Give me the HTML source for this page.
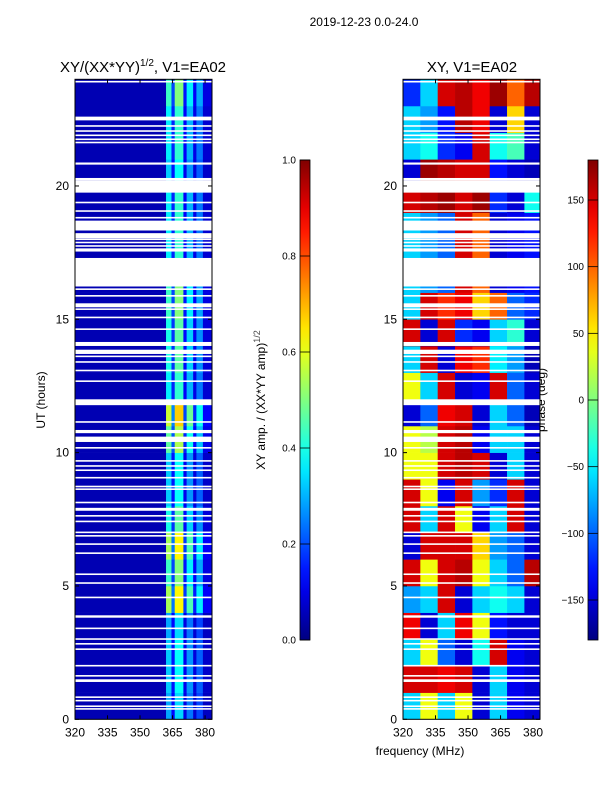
<!DOCTYPE html>
<html><head><meta charset="utf-8"><style>
body{margin:0;background:#fff;font-family:"Liberation Sans",sans-serif}
svg text{font-family:"Liberation Sans",sans-serif}
</style></head><body>
<svg id="fig" width="600" height="800" xmlns="http://www.w3.org/2000/svg">
<text x="364" y="26" font-size="12" text-anchor="middle">2019-12-23 0.0-24.0</text>
<text x="143" y="72" font-size="15" text-anchor="middle">XY/(XX*YY)<tspan font-size="10" dy="-6">1/2</tspan><tspan dy="6">, V1=EA02</tspan></text>
<text x="472" y="72" font-size="15" text-anchor="middle">XY, V1=EA02</text>
<text x="420" y="755" font-size="12" text-anchor="middle">frequency (MHz)</text>
<text transform="translate(45,400) rotate(-90)" font-size="12" text-anchor="middle">UT (hours)</text>
<text transform="translate(265,400) rotate(-90)" font-size="12" text-anchor="middle">XY amp. / (XX*YY amp)<tspan font-size="9" dy="-5" fill="#444">1/2</tspan></text>
<text transform="translate(545,400) rotate(-90)" font-size="12" text-anchor="middle">phase (deg)</text>
<g id="left"></g>
<g id="right"></g>
<g id="cbars"></g>
</svg>
<script>
// amplitude data
const ampFreqEdges = [320,362,364.5,366,370,371.5,374.5,376,379,383.2];
const ampColBase = [0.05,0.36,0.16,0.42,0.12,0.3,0.1,0.24,0.08];
const ampHourScale = [0.8,0.9,0.9,0.8,1.5,1.2,1.5,1.1,0.9,0.9,1.3,1.6,1.0,1.1,1.1,1.2,1.2,1.0,1.0,1.0,0.9,1.0,1.0,1.2];
// phase data (hour rows 0..23, 8 MHz columns)
const phaseFreqEdges = [320,328,336,344,352,360,368,376,383.2];
const phaseGrid = [
[-60,40,-60,40,-150,-60,-140,-150],
[150,150,140,150,-150,-60,-140,-150],
[-60,40,-100,-150,-40,150,-140,-150],
[140,-150,-60,140,40,-130,-150,-150],
[-80,-60,150,-150,-60,-40,-60,-150],
[150,40,150,160,40,-60,-100,160],
[-150,150,150,150,60,-80,-100,-150],
[150,-60,150,40,-140,-60,150,-150],
[150,40,-140,150,-80,-120,150,-150],
[40,40,150,160,150,-150,-60,-150],
[40,20,150,160,-140,-60,-60,-150],
[-150,-100,140,150,-150,-60,-100,-160],
[40,-60,150,-150,-140,150,-100,-150],
[-60,150,-150,140,120,-50,-80,-160],
[150,-150,150,-120,-140,-60,-30,-150],
[-60,150,120,140,60,100,-100,-120],
[-60,-80,-100,150,100,-150,-140,-130],
[-60,-80,-100,150,100,-150,-140,-130],
[-60,-80,-100,150,100,-150,-140,-130],
[150,160,170,150,170,-120,-150,-40],
[-150,170,160,150,150,-130,-150,-160],
[-60,-40,-120,-140,150,-40,-20,-150],
[-60,-80,-130,160,140,-150,60,-150],
[-120,-60,150,160,140,170,100,160]];
// flagged time ranges (hours)
const gaps = [[0.36,0.42],[0.46,0.52],[0.67,0.73],[0.8,0.86],[1.4,1.5],[1.6,1.66],[1.98,2.04],[2.6,2.66],[2.8,2.86],[2.98,3.04],[3.38,3.44],[3.81,3.9],[4.54,4.6],[5.08,5.14],[5.41,5.47],[6.2,6.26],[6.54,6.6],[6.85,6.91],[6.98,7.04],[7.39,7.45],[7.6,7.66],[7.82,7.93],[8.1,8.16],[8.6,8.66],[8.7,8.76],[9.03,9.09],[9.31,9.37],[9.47,9.53],[9.66,9.72],[10.15,10.21],[10.4,10.6],[10.73,10.85],[11.12,11.18],[11.78,12.0],[12.65,12.71],[13.05,13.11],[13.37,13.43],[13.58,13.64],[13.7,13.86],[14.0,14.15],[14.6,14.66],[15.04,15.1],[15.35,15.41],[15.45,15.6],[15.85,15.91],[16.1,16.16],[16.23,17.3],[17.54,17.66],[17.72,17.78],[17.85,17.91],[17.97,18.03],[18.04,18.23],[18.33,18.7],[18.78,18.84],[19.03,19.09],[19.35,19.41],[19.75,20.2],[20.2,20.3],[20.8,20.88],[21.6,21.66],[21.72,21.78],[21.87,21.93],[22.03,22.09],[22.22,22.28],[22.46,22.6],[23.88,23.94]];
const xTicks = [320,335,350,365,380];
const yTicks = [0,5,10,15,20];
const ampTicks = [0.0,0.2,0.4,0.6,0.8,1.0];
const phaseTicks = [150,100,50,0,-50,-100,-150];

const NS='http://www.w3.org/2000/svg';
function jet(v){v=Math.max(0,Math.min(1,v));
 const r=Math.min(4*v-1.5,-4*v+4.5),g=Math.min(4*v-0.5,-4*v+3.5),b=Math.min(4*v+0.5,-4*v+2.5);
 const c=x=>Math.round(255*Math.max(0,Math.min(1,x)));return `rgb(${c(r)},${c(g)},${c(b)})`;}
function mk(parent,tag,attrs){const e=document.createElementNS(NS,tag);for(const k in attrs)e.setAttribute(k,attrs[k]);parent.appendChild(e);return e;}
const Y0=719.3,Y1=79.3;
function yS(h){return Y0-(Y0-Y1)*h/24;}
function xS(x0,f){return x0+(f-320)*(137/63.2);}
function panel(g,x0,drawCells){
 drawCells();
 for(const gp of gaps){const r=mk(g,'rect',{x:x0,y:yS(gp[1]),width:137,height:yS(gp[0])-yS(gp[1]),fill:'#fff'});
  
  }
 const fr=mk(g,'rect',{x:x0,y:Y1,width:137,height:Y0-Y1,fill:'none',stroke:'#000','stroke-width':1});
 
 
 for(const t of xTicks){const x=xS(x0,t);
  mk(g,'line',{x1:x,x2:x,y1:Y0,y2:Y0-4,stroke:'#000'});mk(g,'line',{x1:x,x2:x,y1:Y1,y2:Y1+4,stroke:'#000'});
  const tx=mk(g,'text',{x:x,y:Y0+17,'font-size':12,'text-anchor':'middle'});tx.textContent=t;
  
  }
 for(const t of yTicks){const y=yS(t);
  mk(g,'line',{x1:x0,x2:x0+4,y1:y,y2:y,stroke:'#000'});mk(g,'line',{x1:x0+137,x2:x0+133,y1:y,y2:y,stroke:'#000'});
  const tx=mk(g,'text',{x:x0-6,y:y+4,'font-size':12,'text-anchor':'end'});tx.textContent=t;
  
  }
}
const L=document.getElementById('left'),R=document.getElementById('right');
panel(L,75,()=>{for(let h=0;h<24;h++)for(let c=0;c<ampColBase.length;c++){
 const v=c===0?ampColBase[0]:ampColBase[c]*ampHourScale[h];
 const x=xS(75,ampFreqEdges[c]),w=xS(75,ampFreqEdges[c+1])-x;
 const r=mk(L,'rect',{x:x,y:yS(h+1),width:w+0.3,height:yS(h)-yS(h+1)+0.3,fill:jet(v)});
 
 }});
panel(R,403,()=>{for(let h=0;h<24;h++)for(let c=0;c<8;c++){
 const v=(phaseGrid[h][c]+180)/360;
 const x=xS(403,phaseFreqEdges[c]),w=xS(403,phaseFreqEdges[c+1])-x;
 const r=mk(R,'rect',{x:x,y:yS(h+1),width:w+0.3,height:yS(h)-yS(h+1)+0.3,fill:jet(v)});
 
 }});
// colorbars
const C=document.getElementById('cbars');
const defs=mk(C,'defs',{});const lg=mk(defs,'linearGradient',{id:'jetg',x1:0,y1:1,x2:0,y2:0});
for(let i=0;i<=20;i++)mk(lg,'stop',{offset:i/20,'stop-color':jet(i/20)});
function cbar(x,ticks,lo,hi,fmt,name){
 const r=mk(C,'rect',{x:x,y:160,width:10,height:480,fill:'url(#jetg)',stroke:'#000','stroke-width':0.8});
 
 
 for(const t of ticks){const y=640-480*(t-lo)/(hi-lo);
  mk(C,'line',{x1:x,x2:x+10,y1:y,y2:y,stroke:'#000','stroke-width':0.8});
  const tx=mk(C,'text',{x:x-4,y:y+3.5,'font-size':10,'text-anchor':'end'});tx.textContent=fmt(t);
  
  }
}
cbar(300,ampTicks,0,1,t=>t.toFixed(1),'amplitude-colorbar');
cbar(588,phaseTicks,-180,180,t=>t<0?'\u2212'+(-t):String(t),'phase-colorbar');
</script>
</body></html>
